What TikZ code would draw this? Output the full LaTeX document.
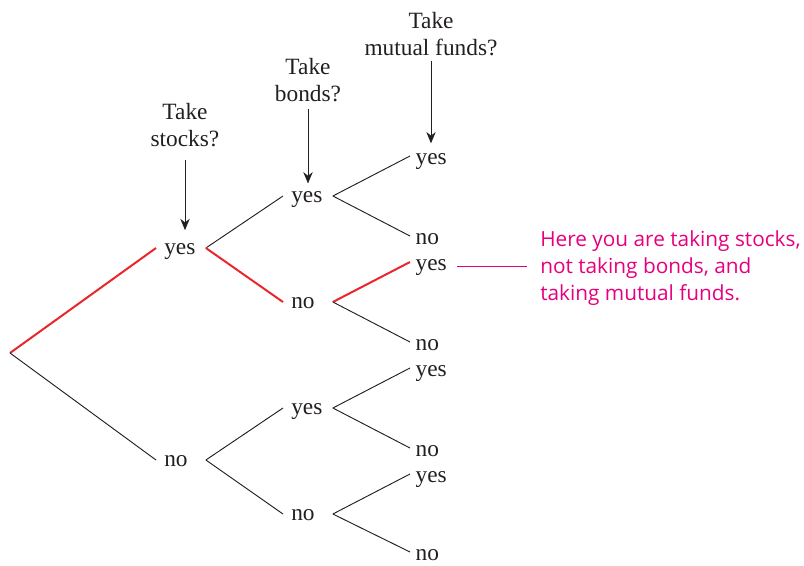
\documentclass[tikz,border=0pt]{standalone}
\usepackage{fontspec}
\setmainfont{Liberation Serif}
\newfontfamily\notefont{Open Sans}
\usepackage{tikz}
\usetikzlibrary{arrows.meta,positioning}
\definecolor{pathred}{HTML}{E8262C}
\definecolor{notepink}{HTML}{E6007E}
\definecolor{ink}{HTML}{231F20}

\begin{document}
\begin{tikzpicture}[
  x=0.75pt, y=-0.75pt,
  every node/.style={font=\fontsize{17.5}{20}\selectfont, text=ink},
  ans/.style={anchor=west, text width=25pt, align=left, inner xsep=6pt, inner ysep=2pt, text height=9.4pt, text depth=0pt},
  leaf/.style={ans, inner xsep=4pt, text height=13pt},
  ques/.style={align=center, inner sep=0pt},
  branch/.style={draw=ink, line width=0.7pt},
  chosen/.style={draw=pathred, line width=1.5pt},
  arr/.style={-{Stealth[length=8.5pt, width=7pt]}, draw=ink, line width=0.7pt},
  note/.style={anchor=west, align=left, inner sep=0pt, text=notepink, font=\notefont\fontsize{15.6}{20}\selectfont},
  pointer/.style={draw=notepink, line width=0.7pt}
]
\useasboundingbox (0,0) rectangle (804,565);

% stocks
\coordinate (root) at (10,353);
\node[ans] (y1) at (156,248) {yes};
\node[ans] (n1) at (156,460) {no};
% bonds
\node[ans] (y1y) at (283,196) {yes};
\node[ans] (y1n) at (283,302) {no};
\node[ans] (n1y) at (283,408) {yes};
\node[ans] (n1n) at (283,514) {no};
% mutual funds
\node[leaf] (y1yy) at (410,156) {yes};
\node[leaf] (y1yn) at (410,236) {no};
\node[leaf] (y1ny) at (410,262) {yes};
\node[leaf] (y1nn) at (410,342) {no};
\node[leaf] (n1yy) at (410,368) {yes};
\node[leaf] (n1yn) at (410,448) {no};
\node[leaf] (n1ny) at (410,474) {yes};
\node[leaf] (n1nn) at (410,552) {no};

% questions above each level
\node[ques] (q1) at (185,125) {Take\\stocks?};
\node[ques] (q2) at (308,80) {Take\\bonds?};
\node[ques] (q3) at (431,34) {Take\\mutual funds?};

\draw[arr, shorten <=10pt, shorten >=6.5pt] (q1.south) -- (q1.south |- y1.north);
\draw[arr, shorten <=5pt, shorten >=2.5pt] (q2.south) -- (q2.south |- y1y.north);
\draw[arr, shorten <=4pt, shorten >=0.8pt] (q3.south) -- (q3.south |- y1yy.north);

% branches
\draw[chosen] (root) -- (y1.west);
\draw[branch] (root) -- (n1.west);
\draw[branch] (y1.east) -- (y1y.west);
\draw[chosen] (y1.east) -- (y1n.west);
\draw[branch] (n1.east) -- (n1y.west);
\draw[branch] (n1.east) -- (n1n.west);
\draw[branch] (y1y.east) -- (y1yy.west);
\draw[branch] (y1y.east) -- (y1yn.west);
\draw[chosen] (y1n.east) -- (y1ny.west);
\draw[branch] (y1n.east) -- (y1nn.west);
\draw[branch] (n1y.east) -- (n1yy.west);
\draw[branch] (n1y.east) -- (n1yn.west);
\draw[branch] (n1n.east) -- (n1ny.west);
\draw[branch] (n1n.east) -- (n1nn.west);

% callout
\node[note] (note) at (540,268) {Here you are taking stocks,\\not taking bonds, and\\taking mutual funds.};
\draw[pointer, shorten <=2pt, shorten >=10pt] ([yshift=-3pt]y1ny.east) -- ([yshift=-3pt]y1ny.east -| note.west);
\end{tikzpicture}
\end{document}
